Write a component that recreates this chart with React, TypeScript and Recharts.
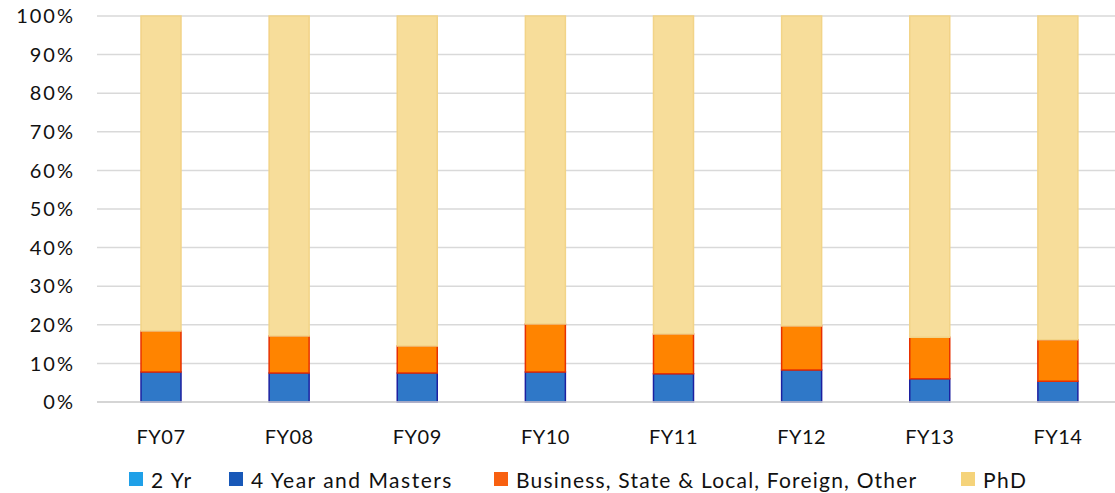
import React from "react";
import { BarChart, Bar, XAxis, YAxis, CartesianGrid } from "recharts";

const categories = ["FY07", "FY08", "FY09", "FY10", "FY11", "FY12", "FY13", "FY14"];
const twoYr = [0, 0, 0, 0, 0, 0, 0, 0];
const fourYear = [7.8, 7.5, 7.5, 7.8, 7.3, 8.3, 6.0, 5.4];
const business = [10.6, 9.6, 7.0, 12.4, 10.3, 11.4, 10.8, 10.7];
const phd = [81.6, 82.9, 85.5, 79.8, 82.4, 80.3, 83.2, 83.9];
const yTicks = [0, 10, 20, 30, 40, 50, 60, 70, 80, 90, 100];

const series = [
  { key: "twoYr", name: "2 Yr", fill: "#2a8fe0", stroke: "#1fa0e8", legend: "#1fa0e8" },
  { key: "fourYear", name: "4 Year and Masters", fill: "#2f78c8", stroke: "#1c20a0", legend: "#1858b8" },
  { key: "business", name: "Business, State & Local, Foreign, Other", fill: "#ff8400", stroke: "#e83000", legend: "#f86010" },
  { key: "phd", name: "PhD", fill: "#f7dd9a", stroke: "#f2d488", legend: "#f5d37a" },
];

const data = categories.map((c, i) => ({
  name: c,
  twoYr: twoYr[i],
  fourYear: fourYear[i],
  business: business[i],
  phd: phd[i],
}));

const font = "Lato, 'Open Sans', sans-serif";

const legendPos = [129, 229, 494, 961];
const legendSpacing = [1.5, 1.5, 1.2, 1.5];

export default function App() {
  return (
    <div style={{ position: "fixed", left: 0, top: 0, width: 1115, height: 493, overflow: "hidden", background: "#fff" }}>
      <BarChart
        width={1130}
        height={493}
        data={data}
        margin={{ top: 16, right: 8, bottom: 0, left: 0 }}
        barSize={40}
      >
        <CartesianGrid vertical={false} stroke="#d9d9d9" strokeWidth={1.5} />
        <XAxis
          dataKey="name"
          height={91}
          tickLine={false}
          axisLine={{ stroke: "#d0d0d0", strokeWidth: 1.5 }}
          tickMargin={22}
          tick={{ fill: "#111", fontSize: 20, fontFamily: font, letterSpacing: 0.5 }}
        />
        <YAxis
          width={97}
          domain={[0, 100]}
          ticks={yTicks}
          tickFormatter={(v: number) => `${v}%`}
          tickLine={false}
          axisLine={false}
          tickMargin={16}
          interval={0}
          tick={{ fill: "#111", fontSize: 20, fontFamily: font, letterSpacing: 2 }}
        />
        {series.map((s) => (
          <Bar
            key={s.key}
            dataKey={s.key}
            name={s.name}
            stackId="a"
            fill={s.fill}
            stroke={s.stroke}
            strokeWidth={1.5}
            isAnimationActive={false}
          />
        ))}
      </BarChart>
      {series.map((s, i) => (
        <React.Fragment key={s.key}>
          <span
            style={{
              position: "absolute",
              left: legendPos[i],
              top: 472,
              width: 14,
              height: 14,
              background: s.legend,
            }}
          />
          <span
            style={{
              position: "absolute",
              left: legendPos[i] + 22,
              top: 469,
              lineHeight: "21px",
              fontFamily: font,
              fontSize: 21,
              letterSpacing: legendSpacing[i],
              color: "#111",
              whiteSpace: "nowrap",
            }}
          >
            {s.name}
          </span>
        </React.Fragment>
      ))}
    </div>
  );
}
